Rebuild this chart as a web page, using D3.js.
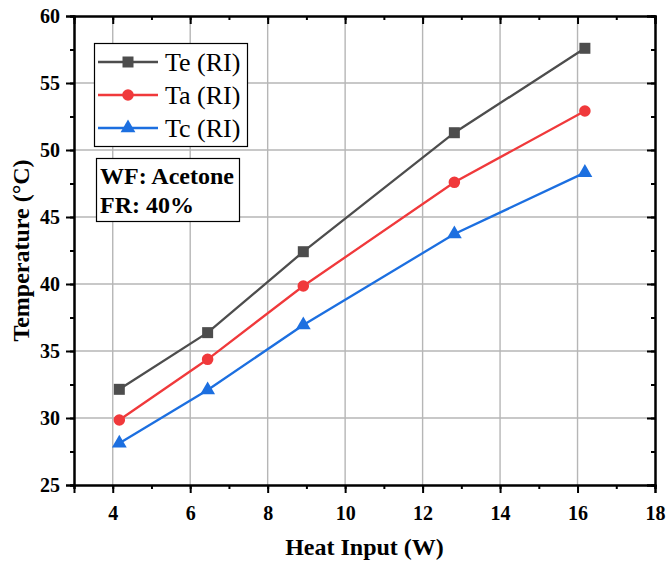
<!DOCTYPE html>
<html>
<head>
<meta charset="utf-8">
<script src="https://cdn.jsdelivr.net/npm/d3@7"></script>
<style>
  html, body { margin: 0; padding: 0; background: #fff; }
  svg { display: block; }
  text { font-family: "Liberation Serif", "DejaVu Serif", "Times New Roman", Times, serif; }
</style>
</head>
<body>
<svg id="chart" width="670" height="566"></svg>
<script>
// Heat input (W) at each measurement
const heatInput = [4.17, 6.45, 8.92, 12.82, 16.19];
// Temperatures (°C) per series
const teValues = [32.14, 36.37, 42.41, 51.29, 57.59];
const taValues = [29.85, 34.38, 39.85, 47.59, 52.91];
const tcValues = [28.11, 32.09, 36.94, 43.73, 48.31];
const seriesNames = ["Te (RI)", "Ta (RI)", "Tc (RI)"];
const seriesColors = ["#4d4d4d", "#f0393b", "#1c6fe0"];
const seriesShapes = ["square", "circle", "triangle"];
const xTicks = [4, 6, 8, 10, 12, 14, 16, 18];
const yTicks = [25, 30, 35, 40, 45, 50, 55, 60];
const infoLines = ["WF: Acetone", "FR: 40%"];

const series = [teValues, taValues, tcValues].map((vals, i) => ({
  name: seriesNames[i], color: seriesColors[i], shape: seriesShapes[i],
  points: vals.map((v, j) => ({ x: heatInput[j], y: v }))
}));

const svg = d3.select("#chart");
const plotLeft = 74, plotRight = 655, plotTop = 16, plotBottom = 485;

const x = d3.scaleLinear().domain([3, 18]).range([plotLeft, plotRight]);
const y = d3.scaleLinear().domain([25, 60]).range([plotBottom, plotTop]);

// Grid lines
const gridColor = "#b6b6b6";
svg.append("g").selectAll("line").data(xTicks.filter(t => t > 3 && t < 18)).join("line")
  .attr("x1", d => x(d)).attr("x2", d => x(d)).attr("y1", plotTop).attr("y2", plotBottom)
  .attr("stroke", gridColor).attr("stroke-width", 1.4);
svg.append("g").selectAll("line").data(yTicks.filter(t => t > 25 && t < 60)).join("line")
  .attr("y1", d => y(d)).attr("y2", d => y(d)).attr("x1", plotLeft).attr("x2", plotRight)
  .attr("stroke", gridColor).attr("stroke-width", 1.4);

// Axes
const tickFont = g => g.selectAll("text")
  .attr("font-weight", "bold").attr("font-size", 20).attr("fill", "#000");
const axisStyle = g => {
  g.attr("font-family", null);
  g.select(".domain").attr("stroke", "#000").attr("stroke-width", 2);
  g.selectAll(".tick line").attr("stroke", "#000").attr("stroke-width", 2);
};

const xMinor = d3.range(3, 18.01, 1);
const yMinor = d3.range(25, 60.01, 2.5);

// bottom
svg.append("g").attr("transform", `translate(0,${plotBottom})`)
  .call(d3.axisBottom(x).tickValues(xMinor).tickSize(4).tickFormat(""))
  .call(axisStyle);
svg.append("g").attr("transform", `translate(0,${plotBottom})`)
  .call(d3.axisBottom(x).tickValues(xTicks).tickSize(8).tickPadding(13).tickFormat(d3.format("d")))
  .call(axisStyle).call(tickFont);
// top (inward ticks)
svg.append("g").attr("transform", `translate(0,${plotTop})`)
  .call(d3.axisBottom(x).tickValues(xMinor).tickSize(4).tickFormat(""))
  .call(axisStyle);
svg.append("g").attr("transform", `translate(0,${plotTop})`)
  .call(d3.axisBottom(x).tickValues(xTicks).tickSize(8).tickFormat(""))
  .call(axisStyle);
// left
svg.append("g").attr("transform", `translate(${plotLeft},0)`)
  .call(d3.axisLeft(y).tickValues(yMinor).tickSize(4).tickFormat(""))
  .call(axisStyle);
svg.append("g").attr("transform", `translate(${plotLeft},0)`)
  .call(d3.axisLeft(y).tickValues(yTicks).tickSize(8).tickPadding(6).tickFormat(d3.format("d")))
  .call(axisStyle).call(tickFont);
// right (inward ticks)
svg.append("g").attr("transform", `translate(${plotRight},0)`)
  .call(d3.axisLeft(y).tickValues(yMinor).tickSize(4).tickFormat(""))
  .call(axisStyle);
svg.append("g").attr("transform", `translate(${plotRight},0)`)
  .call(d3.axisLeft(y).tickValues(yTicks).tickSize(8).tickFormat(""))
  .call(axisStyle);

// Axis titles
svg.append("text").attr("x", (plotLeft + plotRight) / 2).attr("y", 555)
  .attr("text-anchor", "middle").attr("font-weight", "bold").attr("font-size", 24)
  .text("Heat Input (W)");
svg.append("text").attr("transform", `translate(29,${(plotTop + plotBottom) / 2}) rotate(-90)`)
  .attr("text-anchor", "middle").attr("font-weight", "bold").attr("font-size", 24)
  .text("Temperature (°C)");

// Markers
const symbolFor = s => s === "square" ? d3.symbolSquare : s === "circle" ? d3.symbolCircle : d3.symbolTriangle;
const sizeFor = s => s === "square" ? 121 : s === "circle" ? 105 : 95;

const line = d3.line().x(d => x(d.x)).y(d => y(d.y));
series.forEach(s => {
  svg.append("path").datum(s.points).attr("d", line)
    .attr("fill", "none").attr("stroke", s.color).attr("stroke-width", 2.3);
  svg.append("g").selectAll("path").data(s.points).join("path")
    .attr("transform", d => `translate(${x(d.x)},${y(d.y)})`)
    .attr("d", d3.symbol().type(symbolFor(s.shape)).size(sizeFor(s.shape)))
    .attr("fill", s.color);
});

// Legend
const lg = svg.append("g");
lg.append("rect").attr("x", 94.5).attr("y", 43.5).attr("width", 153).attr("height", 103)
  .attr("fill", "#fff").attr("stroke", "#000").attr("stroke-width", 1.2);
series.forEach((s, i) => {
  const cy = 62 + i * 33;
  lg.append("line").attr("x1", 98).attr("x2", 158).attr("y1", cy).attr("y2", cy)
    .attr("stroke", s.color).attr("stroke-width", 2.3);
  lg.append("path").attr("transform", `translate(128,${cy})`)
    .attr("d", d3.symbol().type(symbolFor(s.shape)).size(sizeFor(s.shape)))
    .attr("fill", s.color);
  lg.append("text").attr("x", 165).attr("y", cy + 9).attr("font-size", 26)
    .text(s.name);
});

// Working fluid / fill ratio box
const ib = svg.append("g");
ib.append("rect").attr("x", 96.5).attr("y", 158.5).attr("width", 143).attr("height", 63)
  .attr("fill", "#fff").attr("stroke", "#000").attr("stroke-width", 1.2);
infoLines.forEach((t, i) => {
  ib.append("text").attr("x", 100).attr("y", 184 + i * 29)
    .attr("font-weight", "bold").attr("font-size", 24).text(t);
});
</script>
</body>
</html>
